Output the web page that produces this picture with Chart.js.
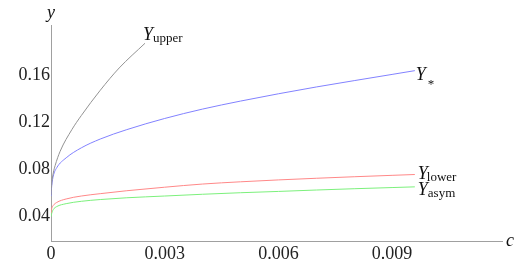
<!DOCTYPE html>
<html>
<head>
<meta charset="utf-8">
<script src="https://cdn.jsdelivr.net/npm/chart.js@4"></script>
<style>
  html, body { margin: 0; padding: 0; background: #fff; }
  #wrap { width: 530px; height: 264px; position: relative; }
</style>
</head>
<body>
<div id="wrap"><canvas id="chart"></canvas></div>
<script>
// values
const cGrid  = [0, 0.00002, 0.00006, 0.00015, 0.0004, 0.0008, 0.0013, 0.002, 0.003, 0.004, 0.005, 0.006, 0.007, 0.008, 0.009, 0.0096];
const yStar  = [0.057, 0.066, 0.074, 0.081, 0.0895, 0.098, 0.1055, 0.1135, 0.123, 0.131, 0.1378, 0.144, 0.1498, 0.1552, 0.1605, 0.1637];
const yLower = [0.0425, 0.0465, 0.049, 0.0515, 0.0545, 0.057, 0.059, 0.0615, 0.0645, 0.0672, 0.0691, 0.0707, 0.0721, 0.0734, 0.0746, 0.0753];
const yAsym  = [0.0395, 0.0425, 0.0455, 0.048, 0.0505, 0.0525, 0.054, 0.0555, 0.057, 0.0585, 0.0598, 0.0609, 0.0621, 0.0632, 0.0642, 0.0648];

const cUpper = [0, 0.00002, 0.00006, 0.00011, 0.00024, 0.00055, 0.0008, 0.0013, 0.0018, 0.00248];
const yUpper = [0.058, 0.068, 0.0766, 0.083, 0.095, 0.1135, 0.1255, 0.147, 0.166, 0.187];

const xTicks = [0, 0.003, 0.006, 0.009];
const xTickLabels = ["0", "0.003", "0.006", "0.009"];
const yTicks = [0.04, 0.08, 0.12, 0.16];
const yTickLabels = ["0.04", "0.08", "0.12", "0.16"];

const seriesSubs = ["upper", "*", "lower", "asym"];

// label placement relative to each curve's last point (style only)
const labelOffsets = [
  { dx: -2, dy: -3, sdx: 10, sdy: 2 },
  { dx: 1,  dy: 9,  sdx: 12, sdy: 8 },
  { dx: 3,  dy: 4,  sdx: 9,  sdy: 2 },
  { dx: 3,  dy: 8,  sdx: 10, sdy: 2 }
];

const SERIF = "'Liberation Serif', 'DejaVu Serif', serif";
const TICK_FONT = { family: SERIF, size: 18 };
const AXIS_COLOR = "#a0a0a0";

Chart.defaults.font.family = SERIF;
Chart.defaults.font.size = 18;
Chart.defaults.color = "#222";

const toPoints = (xs, ys) => xs.map((x, i) => ({ x, y: ys[i] }));

// ── curve end labels + axis names ─────────────────────
const curveLabels = {
  id: "curveLabels",
  afterDatasetsDraw(chart) {
    const ctx = chart.ctx;
    ctx.save();
    ctx.fillStyle = "#111";
    ctx.textAlign = "left";
    ctx.textBaseline = "alphabetic";
    chart.data.datasets.forEach((ds, i) => {
      const pts = chart.getDatasetMeta(i).data;
      const end = pts[pts.length - 1];
      const o = labelOffsets[i];
      ctx.font = `italic 18px ${SERIF}`;
      ctx.fillText("Y", end.x + o.dx, end.y + o.dy);
      ctx.font = `13px ${SERIF}`;
      ctx.fillText(seriesSubs[i], end.x + o.dx + o.sdx, end.y + o.dy + o.sdy);
    });
    const a = chart.chartArea;
    ctx.font = `italic 18px ${SERIF}`;
    ctx.textAlign = "center";
    ctx.textBaseline = "middle";
    ctx.fillText("y", a.left, a.top - 12);
    ctx.fillText("c", a.right + 8, a.bottom);
    ctx.restore();
  }
};

new Chart(document.getElementById("chart"), {
  type: "line",
  data: {
    datasets: [
      { label: "Y_upper", data: toPoints(cUpper, yUpper), borderColor: "#939393" },
      { label: "Y_*",     data: toPoints(cGrid, yStar),   borderColor: "#8282ff" },
      { label: "Y_lower", data: toPoints(cGrid, yLower),  borderColor: "#ff8888" },
      { label: "Y_asym",  data: toPoints(cGrid, yAsym),   borderColor: "#7cf07c" }
    ]
  },
  options: {
    responsive: true,
    maintainAspectRatio: false,
    animation: false,
    layout: { padding: { top: 25, right: 28, left: 0, bottom: 0 } },
    elements: {
      line: { borderWidth: 1, cubicInterpolationMode: "monotone", fill: false },
      point: { radius: 0 }
    },
    plugins: { legend: { display: false }, tooltip: { enabled: false } },
    scales: {
      x: {
        type: "linear", min: 0, max: 0.0119,
        grid: { display: false, drawTicks: false },
        border: { color: AXIS_COLOR, width: 1 },
        afterBuildTicks: s => { s.ticks = xTicks.map(v => ({ value: v })); },
        afterFit: s => { s.height = 22.5; },
        ticks: { padding: 2, maxRotation: 0, autoSkip: false, color: "#222", font: TICK_FONT,
                 callback: (v, i) => xTickLabels[i] }
      },
      y: {
        type: "linear", min: 0.01829, max: 0.20255,
        grid: { display: false, drawTicks: false },
        border: { color: AXIS_COLOR, width: 1 },
        afterBuildTicks: s => { s.ticks = yTicks.map(v => ({ value: v })); },
        afterFit: s => { s.width = 51; },
        ticks: { padding: 1, autoSkip: false, color: "#222", font: TICK_FONT,
                 callback: (v, i) => yTickLabels[i] }
      }
    }
  },
  plugins: [curveLabels]
});
</script>
</body>
</html>
